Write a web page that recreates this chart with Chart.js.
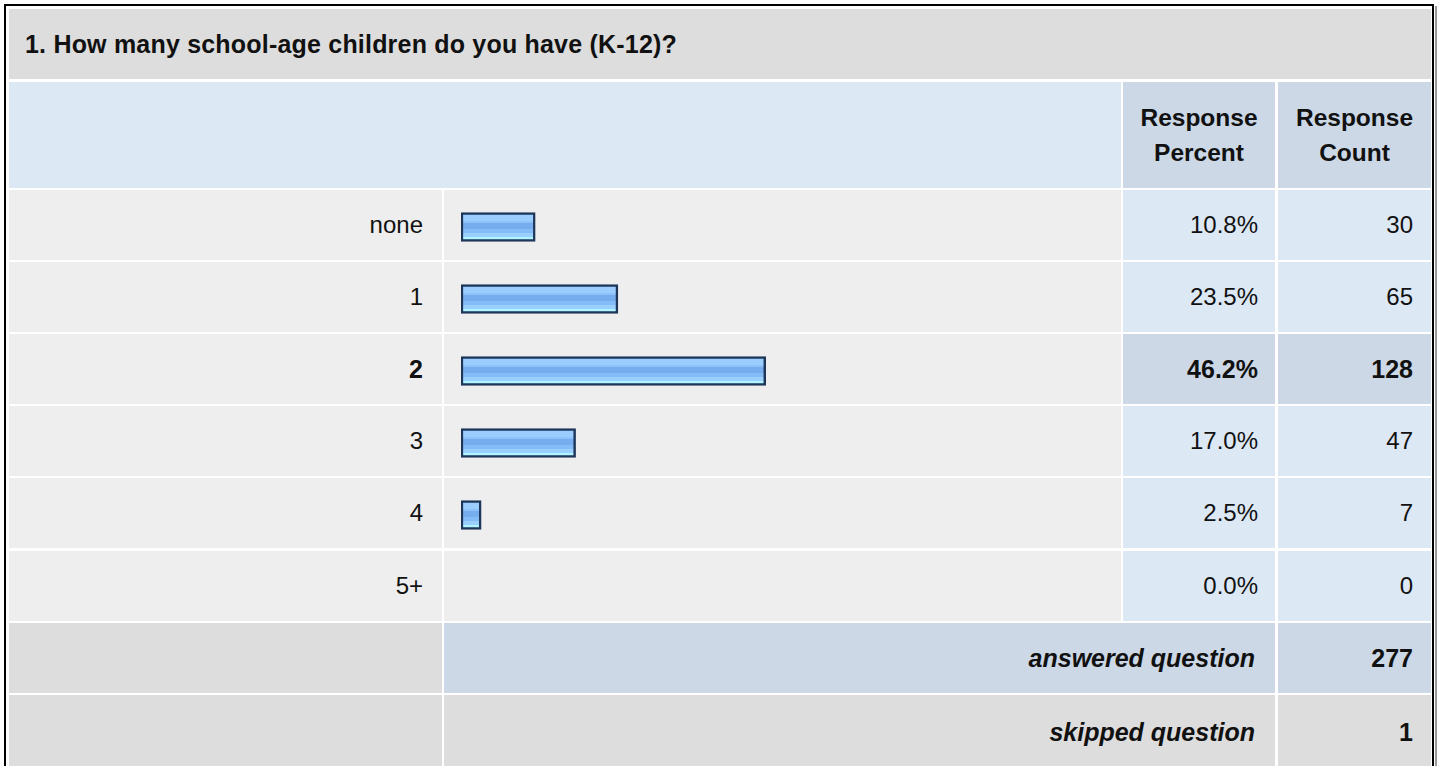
<!DOCTYPE html>
<html>
<head>
<meta charset="utf-8">
<title>School-age children</title>
<script src="https://cdn.jsdelivr.net/npm/chart.js@4.4.1/dist/chart.umd.min.js"></script>
<style>
  html, body { margin: 0; padding: 0; background: #fff; }
  body { width: 1440px; height: 766px; position: relative; overflow: hidden;
         font-family: "Liberation Sans", Arial, sans-serif; color: #111; }
  .line { position: absolute; }
  .cell { position: absolute; box-sizing: border-box; display: flex; align-items: center; font-size: 24px; }
  .right { justify-content: flex-end; text-align: right; }
  .center { justify-content: center; text-align: center; }
  .bold { font-weight: bold; font-size: 25px; }
  .italic { font-style: italic; }
  .title { font-weight: bold; font-size: 25px; letter-spacing: 0.2px; padding-left: 16px; }
  .head { font-weight: bold; font-size: 24.5px; line-height: 35px; }
  #barWrap { position: absolute; left: 444px; top: 191px; width: 677px; height: 432px; }
</style>
</head>
<body>
<div class="line" style="left:4px;top:4px;width:1430px;height:2px;background:#000"></div>
<div class="line" style="left:4px;top:4px;width:2px;height:762px;background:#000"></div>
<div class="line" style="left:1432px;top:4px;width:2px;height:762px;background:#000"></div>
<div class="line" style="left:1435px;top:6px;width:2px;height:760px;background:#9a9a9a"></div>
<div id="table"></div>
<div id="barWrap"><canvas id="bars"></canvas></div>
<script>
const categories = ['none', '1', '2', '3', '4', '5+'];
const percents = [10.8, 23.5, 46.2, 17.0, 2.5, 0.0];
const counts = [30, 65, 128, 47, 7, 0];
const answeredCount = 277;
const skippedCount = 1;
const questionText = '1. How many school-age children do you have (K-12)?';

(function () {
  const table = document.getElementById('table');
  const top = 190, pitch = 72.1, rowH = 70;
  const cols = { label: [9, 442], bar: [444, 1121], pct: [1123, 1275], cnt: [1278, 1431] };
  const hi = counts.indexOf(Math.max.apply(null, counts));

  const cell = function (x0, x1, y0, y1, bg, cls, html, pad) {
    const d = document.createElement('div');
    d.className = 'cell ' + (cls || '');
    d.style.left = x0 + 'px';
    d.style.top = y0 + 'px';
    d.style.width = (x1 - x0) + 'px';
    d.style.height = (y1 - y0) + 'px';
    d.style.background = bg;
    if (pad) d.style.paddingRight = pad + 'px';
    if (html !== undefined) d.innerHTML = html;
    table.appendChild(d);
  };

  cell(9, 1431, 9, 79, '#dddddd', 'title', questionText);
  cell(9, 1121, 82, 188, '#dde8f5');
  cell(cols.pct[0], cols.pct[1], 82, 188, '#ccd8e6', 'center head', 'Response<br>Percent');
  cell(cols.cnt[0], cols.cnt[1], 82, 188, '#ccd8e6', 'center head', 'Response<br>Count');

  categories.forEach(function (cat, i) {
    const y0 = Math.round(top + i * pitch);
    const y1 = y0 + rowH;
    const strong = i === hi ? ' bold' : '';
    const blue = i === hi ? '#ccd8e6' : '#dde8f5';
    cell(cols.label[0], cols.label[1], y0, y1, '#eeeeee', 'right' + strong, cat, 19);
    cell(cols.bar[0], cols.bar[1], y0, y1, '#eeeeee');
    cell(cols.pct[0], cols.pct[1], y0, y1, blue, 'right' + strong, percents[i].toFixed(1) + '%', 17);
    cell(cols.cnt[0], cols.cnt[1], y0, y1, blue, 'right' + strong, String(counts[i]), 18);
  });

  cell(cols.label[0], cols.label[1], 623, 693, '#dddddd');
  cell(cols.bar[0], cols.pct[1], 623, 693, '#ccd8e6', 'right bold italic', 'answered question', 20);
  cell(cols.cnt[0], cols.cnt[1], 623, 693, '#ccd8e6', 'right bold', String(answeredCount), 18);
  cell(cols.label[0], cols.label[1], 695, 770, '#dddddd');
  cell(cols.bar[0], cols.pct[1], 695, 770, '#dddddd', 'right bold italic', 'skipped question', 20);
  cell(cols.cnt[0], cols.cnt[1], 695, 770, '#dddddd', 'right bold', String(skippedCount), 18);
})();

const barThickness = 29;
const barFill = function (context) {
  const chart = context.chart;
  if (context.type !== 'data' || !chart.chartArea) return '#8fc3f8';
  if (!(context.raw > 0)) return 'rgba(0,0,0,0)';
  const y = chart.scales.y.getPixelForValue(context.dataIndex);
  const t = y - barThickness / 2;
  const g = chart.ctx.createLinearGradient(0, t, 0, t + barThickness);
  const stops = [
    [0, '#9ccdff'], [0.28, '#9ccdff'], [0.28, '#8fc2fa'], [0.37, '#8fc2fa'],
    [0.37, '#75adef'], [0.57, '#75adef'], [0.57, '#86bcf5'], [0.69, '#86bcf5'],
    [0.69, '#9ad0ff'], [0.83, '#9ad0ff'], [0.83, '#b0f4ff'], [1, '#b0f4ff']
  ];
  stops.forEach(function (s) { g.addColorStop(s[0], s[1]); });
  return g;
};

new Chart(document.getElementById('bars'), {
  type: 'bar',
  data: {
    labels: categories,
    datasets: [{
      data: percents,
      base: -0.6,
      backgroundColor: barFill,
      borderColor: function (context) {
        return context.raw > 0 ? '#1d365a' : 'rgba(0,0,0,0)';
      },
      borderWidth: 2.5,
      borderSkipped: false,
      barThickness: barThickness
    }]
  },
  options: {
    indexAxis: 'y',
    responsive: true,
    maintainAspectRatio: false,
    animation: false,
    events: [],
    layout: { padding: { left: 17, right: 5, top: 0, bottom: 0 } },
    plugins: { legend: { display: false }, tooltip: { enabled: false } },
    scales: {
      x: { display: false, min: -0.6, max: 100 },
      y: { display: false }
    }
  }
});
</script>
</body>
</html>
